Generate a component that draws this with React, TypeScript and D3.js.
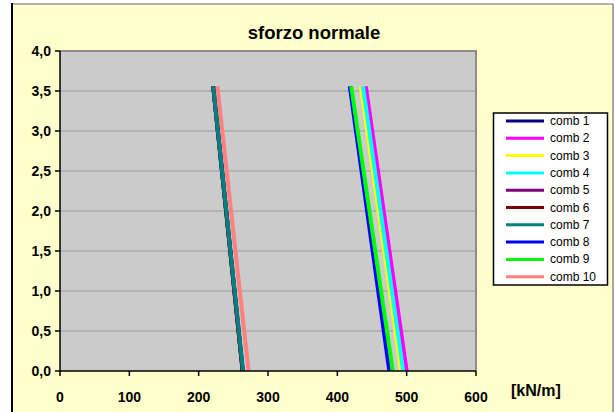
import React from "react";
import * as d3 from "d3";

const heights = [0, 3.56];
const seriesNames = ["comb 1", "comb 2", "comb 3", "comb 4", "comb 5", "comb 6", "comb 7", "comb 8", "comb 9", "comb 10"];
const seriesColors = ["#000080", "#FF00FF", "#FFFF00", "#00FFFF", "#800080", "#800000", "#008080", "#0000FF", "#00FF00", "#FF8080"];
const comb1 = [263.5, 221];
const comb2 = [500, 441];
const comb3 = [492, 434];
const comb4 = [495, 437];
const comb5 = [263.5, 221];
const comb6 = [263.5, 221];
const comb7 = [264, 221];
const comb8 = [475, 418];
const comb9 = [480, 420];
const comb10 = [272, 227];
const seriesValues = [comb1, comb2, comb3, comb4, comb5, comb6, comb7, comb8, comb9, comb10];
const xTicks = [0, 100, 200, 300, 400, 500, 600];
const yTicks = [0, 0.5, 1, 1.5, 2, 2.5, 3, 3.5, 4];

const W = 615, H = 412;
const PL = 60, PR = 476, PT = 51, PB = 371;

export default function App() {
  const x = d3.scaleLinear().domain([0, 600]).range([PL, PR]);
  const y = d3.scaleLinear().domain([0, 4]).range([PB, PT]);
  const fmtY = (v: number) => d3.format(".1f")(v).replace(".", ",");
  const font = "Arial, 'Liberation Sans', sans-serif";

  return (
    <svg width={W} height={H} style={{ position: "absolute", left: 0, top: 0 }} fontFamily={font}>
      <rect x={12} y={4} width={601} height={410} fill="#FFFFCC" />
      <line x1={12} y1={4} x2={613} y2={4} stroke="#999" strokeWidth={1.5} />
      <line x1={613} y1={4} x2={613} y2={412} stroke="#888" strokeWidth={1.5} />
      <line x1={12} y1={3} x2={12} y2={412} stroke="#000" strokeWidth={2} />

      <text x={314} y={39} textAnchor="middle" fontWeight="bold" fontSize={18.5} fill="#000">sforzo normale</text>

      <rect x={PL} y={PT} width={PR - PL} height={PB - PT} fill="#CBCBCB" />
      {yTicks.slice(1, -1).map((t) => (
        <line key={t} x1={PL} x2={PR} y1={y(t)} y2={y(t)} stroke="#9A9A9A" strokeWidth={1} />
      ))}
      <line x1={PL} x2={PR + 1} y1={PT} y2={PT} stroke="#8C8C8C" strokeWidth={2} />
      <line x1={PR} x2={PR} y1={PT} y2={PB} stroke="#8C8C8C" strokeWidth={2} />

      {seriesValues.map((vals, i) => {
        const pts = vals.map((v, j) => [x(v), y(heights[j])] as [number, number]);
        const path = d3.line()(pts) || "";
        return <path key={i} d={path} fill="none" stroke={seriesColors[i]} strokeWidth={4} />;
      })}

      <line x1={PL} x2={PL} y1={PT} y2={PB} stroke="#000" strokeWidth={1.5} />
      <line x1={PL} x2={PR} y1={PB} y2={PB} stroke="#000" strokeWidth={1.5} />
      {yTicks.map((t) => (
        <g key={t}>
          <line x1={PL - 5} x2={PL} y1={y(t)} y2={y(t)} stroke="#000" strokeWidth={1.5} />
          <text x={51} y={y(t) + 5} textAnchor="end" fontWeight="bold" fontSize={14} fill="#000">{fmtY(t)}</text>
        </g>
      ))}
      {xTicks.map((t) => (
        <g key={t}>
          <line x1={x(t)} x2={x(t)} y1={PB} y2={PB + 5} stroke="#000" strokeWidth={1.5} />
          <text x={x(t)} y={402} textAnchor="middle" fontWeight="bold" fontSize={14} fill="#000">{t}</text>
        </g>
      ))}
      <text x={511} y={396} fontWeight="bold" fontSize={16} fill="#000">[kN/m]</text>

      <rect x={493.5} y={113} width={114} height={172} fill="#FFFFFF" stroke="#000" strokeWidth={1.5} />
      {seriesNames.map((name, i) => {
        const cy = 121 + i * 17.3;
        return (
          <g key={name}>
            <line x1={506} x2={544} y1={cy} y2={cy} stroke={seriesColors[i]} strokeWidth={3} />
            <text x={550} y={cy + 4} fontSize={12} fill="#000">{name}</text>
          </g>
        );
      })}
    </svg>
  );
}
